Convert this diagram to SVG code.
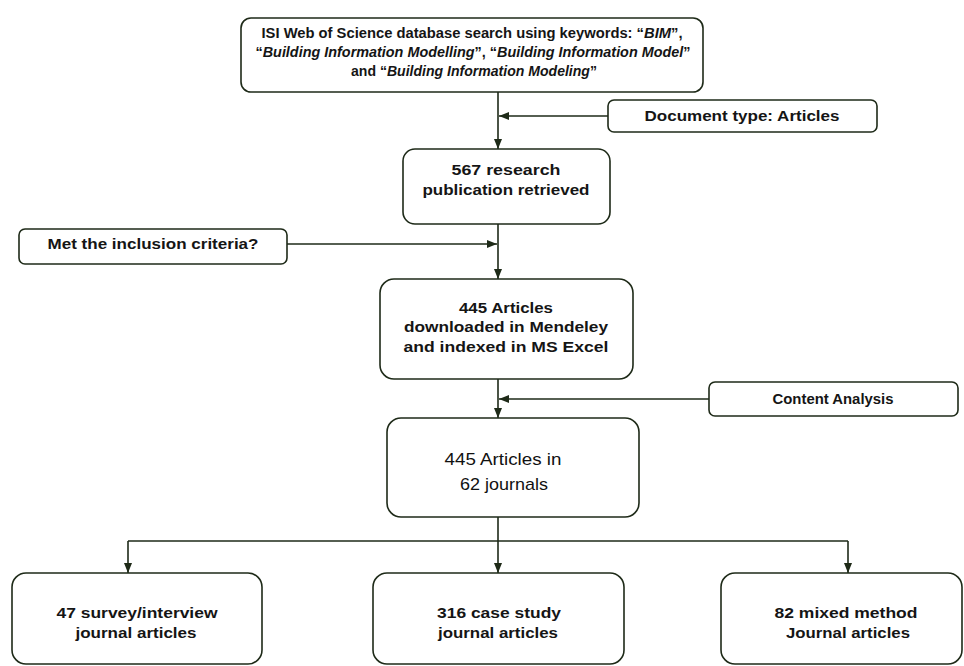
<svg xmlns="http://www.w3.org/2000/svg" width="964" height="666" viewBox="0 0 964 666">
<style>
.box{fill:#fff;stroke:#1e2a18;stroke-width:1.6}
.t{font-family:"Liberation Sans",Arial,sans-serif;font-size:15px;font-weight:bold;fill:#151515;text-anchor:middle}
.ts{font-size:14px}
.tj{font-size:17px;font-weight:normal;fill:#111}
.c{fill:none;stroke:#1e2a18;stroke-width:1.6}
</style>
<defs>
<marker id="ah" markerUnits="userSpaceOnUse" markerWidth="10" markerHeight="10" viewBox="0 0 10 10" refX="10" refY="5" orient="auto">
<path d="M0,1 L10,5 L0,9 Z" fill="#1e2a18"/>
</marker>
</defs>
<rect width="964" height="666" fill="#fff"/>
<g id="connectors">
<line class="c" x1="498" y1="92" x2="498" y2="149" marker-end="url(#ah)"/>
<line class="c" x1="608" y1="116" x2="499" y2="116" marker-end="url(#ah)"/>
<line class="c" x1="498" y1="224" x2="498" y2="279" marker-end="url(#ah)"/>
<line class="c" x1="287" y1="244" x2="497" y2="244" marker-end="url(#ah)"/>
<line class="c" x1="498" y1="379" x2="498" y2="418" marker-end="url(#ah)"/>
<line class="c" x1="709" y1="399" x2="499" y2="399" marker-end="url(#ah)"/>
<line class="c" x1="498" y1="517" x2="498" y2="573" marker-end="url(#ah)"/>
<polyline class="c" points="128,541 848,541"/>
<line class="c" x1="128" y1="541" x2="128" y2="573" marker-end="url(#ah)"/>
<line class="c" x1="848" y1="541" x2="848" y2="573" marker-end="url(#ah)"/>
</g>
<g id="search">
<rect class="box" x="241" y="18" width="462" height="74" rx="10"/>
<text class="t ts" x="472" y="38" textLength="421" lengthAdjust="spacingAndGlyphs">ISI Web of Science database search using keywords: “<tspan font-style="italic">BIM</tspan>”,</text>
<text class="t ts" x="473" y="57" textLength="435" lengthAdjust="spacingAndGlyphs">“<tspan font-style="italic">Building Information Modelling</tspan>”, “<tspan font-style="italic">Building Information Model</tspan>”</text>
<text class="t ts" x="474" y="76" textLength="246" lengthAdjust="spacingAndGlyphs">and “<tspan font-style="italic">Building Information Modeling</tspan>”</text>
</g>
<g id="doctype">
<rect class="box" x="608" y="100" width="269" height="32" rx="6"/>
<text class="t" x="742" y="121" textLength="195" lengthAdjust="spacingAndGlyphs">Document type: Articles</text>
</g>
<g id="retrieved">
<rect class="box" x="403" y="149" width="207" height="75" rx="12"/>
<text class="t" x="506" y="175" textLength="109" lengthAdjust="spacingAndGlyphs">567 research</text>
<text class="t" x="506" y="195" textLength="167" lengthAdjust="spacingAndGlyphs">publication retrieved</text>
</g>
<g id="inclusion">
<rect class="box" x="19" y="229" width="268" height="35" rx="6"/>
<text class="t" x="153" y="249" textLength="211" lengthAdjust="spacingAndGlyphs">Met the inclusion criteria?</text>
</g>
<g id="downloaded">
<rect class="box" x="380" y="279" width="253" height="100" rx="14"/>
<text class="t" x="506" y="313" textLength="94" lengthAdjust="spacingAndGlyphs">445 Articles</text>
<text class="t" x="506" y="332" textLength="204" lengthAdjust="spacingAndGlyphs">downloaded in Mendeley</text>
<text class="t" x="506" y="352" textLength="205" lengthAdjust="spacingAndGlyphs">and indexed in MS Excel</text>
</g>
<g id="content">
<rect class="box" x="709" y="382" width="249" height="34" rx="6"/>
<text class="t" x="833" y="404" textLength="121" lengthAdjust="spacingAndGlyphs">Content Analysis</text>
</g>
<g id="journals">
<rect class="box" x="387" y="418" width="252" height="99" rx="14"/>
<text class="t tj" x="503" y="465" textLength="117" lengthAdjust="spacingAndGlyphs">445 Articles in</text>
<text class="t tj" x="504" y="490" textLength="88" lengthAdjust="spacingAndGlyphs">62 journals</text>
</g>
<g id="survey">
<rect class="box" x="12" y="573" width="250" height="91" rx="14"/>
<text class="t" x="137" y="618" textLength="161" lengthAdjust="spacingAndGlyphs">47 survey/interview</text>
<text class="t" x="136" y="638" textLength="121" lengthAdjust="spacingAndGlyphs">journal articles</text>
</g>
<g id="casestudy">
<rect class="box" x="373" y="573" width="251" height="91" rx="14"/>
<text class="t" x="499" y="618" textLength="124" lengthAdjust="spacingAndGlyphs">316 case study</text>
<text class="t" x="498" y="638" textLength="120" lengthAdjust="spacingAndGlyphs">journal articles</text>
</g>
<g id="mixed">
<rect class="box" x="721" y="573" width="241" height="91" rx="14"/>
<text class="t" x="846" y="618" textLength="143" lengthAdjust="spacingAndGlyphs">82 mixed method</text>
<text class="t" x="848" y="638" textLength="124" lengthAdjust="spacingAndGlyphs">Journal articles</text>
</g>
</svg>
